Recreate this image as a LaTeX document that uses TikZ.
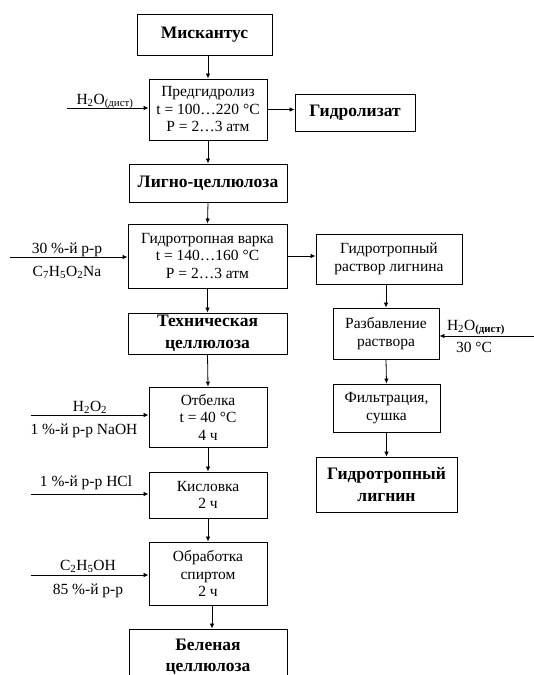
\documentclass[tikz,border=0pt]{standalone}
\usepackage{fontspec}
\setmainfont{Liberation Serif}
\usetikzlibrary{arrows.meta}
\begin{document}
\begin{tikzpicture}[x=1pt,y=-1pt,
  box/.style={draw,line width=0.9pt,rectangle,inner sep=0pt,align=center,font=\fontsize{15.5}{17.5}\selectfont},
  bbox/.style={box,font=\fontsize{17.5}{21.5}\selectfont\bfseries},
  arr/.style={line width=0.8pt,-{Latex[length=5pt,width=4.5pt]}},
  lab/.style={inner sep=0pt,font=\fontsize{15.5}{17}\selectfont}]
\useasboundingbox (0,0) rectangle (534,675);
\clip (0,0) rectangle (534,675);
% main column
\node[bbox,minimum width=135pt,minimum height=41pt] (misc) at (204.5,35) {Мискантус};
\node[box,minimum width=118pt,minimum height=61pt] (pre) at (208,109.5) {Предгидролиз\\t = 100…220 °C\\P = 2…3 атм};
\node[bbox,minimum width=120pt,minimum height=37pt] (hydr) at (355,112.5) {Гидролизат};
\node[bbox,minimum width=158pt,minimum height=38pt] (ligno) at (208,183) {Лигно-целлюлоза};
\node[box,minimum width=159pt,minimum height=64pt] (varka) at (207.5,256) {Гидротропная варка\\t = 140…160 °C\\P = 2…3 атм};
\node[box,minimum width=146pt,minimum height=50pt] (rastv) at (389,259) {Гидротропный\\раствор лигнина};
\node[bbox,minimum width=159pt,minimum height=41pt] (tech) at (207.5,333.5) {Техническая\\целлюлоза};
\node[box,minimum width=106pt,minimum height=51pt] (razb) at (386,333.5) {Разбавление\\раствора};
\node[box,minimum width=107pt,minimum height=48pt] (filtr) at (386.5,408) {Фильтрация,\\сушка};
\node[bbox,minimum width=141pt,minimum height=55pt] (lign) at (386.5,484.5) {Гидротропный\\лигнин};
\node[box,minimum width=118pt,minimum height=60pt] (otb) at (208,417) {Отбелка\\t = 40 °C\\4 ч};
\node[box,minimum width=118pt,minimum height=46pt] (kisl) at (208,495) {Кисловка\\2 ч};
\node[box,minimum width=118pt,minimum height=63pt] (obr) at (208,573.5) {Обработка\\спиртом\\2 ч};
\node[bbox,minimum width=158pt,minimum height=56pt] (bel) at (208,657) {Беленая\\целлюлоза};
% vertical arrows main
\draw[arr] (pre.north |- misc.south) -- (pre.north);
\draw[arr] (pre.south) -- (ligno.north);
\draw[arr] (ligno.south) -- (varka.north);
\draw[arr] (varka.south) -- (tech.north);
\draw[arr] (tech.south) -- (otb.north);
\draw[arr] (otb.south) -- (kisl.north);
\draw[arr] (kisl.south) -- (obr.north);
\draw[arr] ([xshift=4pt]obr.south) -- ([xshift=4pt]bel.north);
% side arrows
\draw[arr] (pre.east) -- (hydr.west |- pre.east);
\draw[arr] (varka.east) -- (rastv.west |- varka.east);
\draw[arr] (rastv.south -| razb.north) -- (razb.north);
\draw[arr] (razb.south) -- (filtr.north);
\draw[arr] (filtr.south) -- (lign.north -| filtr.south);
% inputs
\coordinate (in1) at (67,108);
\draw[arr] (in1) -- (in1 -| pre.west);
\node[lab,anchor=base] (l1) at (105,104) {H\textsubscript{2}O\textsubscript{(дист)}};
\coordinate (in2) at (10,257);
\draw[arr] (in2) -- (in2 -| varka.west);
\node[lab,anchor=base] (l2a) at (67,253) {30 \%-й р-р};
\node[lab,anchor=base] (l2b) at (67,276) {C\textsubscript{7}H\textsubscript{5}O\textsubscript{2}Na};
\coordinate (in3) at (534,336);
\draw[arr] (in3) -- (in3 -| razb.east);
\node[lab,anchor=base] (l3a) at (476,330) {H\textsubscript{2}O\textsubscript{\bfseries(дист)}};
\node[lab,anchor=base] (l3b) at (474,352) {30 °C};
\coordinate (in4) at (31,415);
\draw[arr] (in4) -- (in4 -| otb.west);
\node[lab,anchor=base] (l4a) at (90,411) {H\textsubscript{2}O\textsubscript{2}};
\node[lab,anchor=base] (l4b) at (84,434) {1 \%-й р-р NaOH};
\coordinate (in5) at (31,494);
\draw[arr] (in5) -- (in5 -| kisl.west);
\node[lab,anchor=base] (l5) at (86,486) {1 \%-й р-р HCl};
\coordinate (in6) at (31,575);
\draw[arr] (in6) -- (in6 -| obr.west);
\node[lab,anchor=base] (l6a) at (88,570) {C\textsubscript{2}H\textsubscript{5}OH};
\node[lab,anchor=base] (l6b) at (88,594) {85 \%-й р-р};
\end{tikzpicture}
\end{document}
